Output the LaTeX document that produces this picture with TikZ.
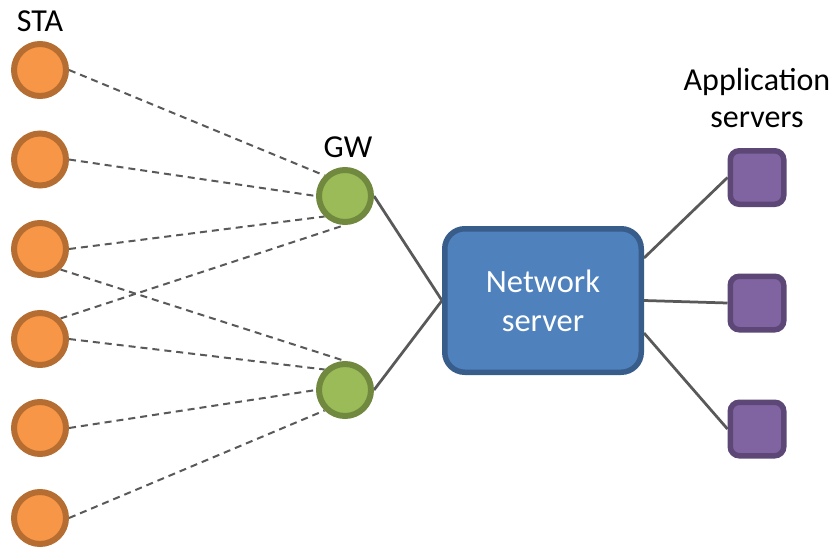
\documentclass[tikz,border=0pt]{standalone}
\usepackage{fontspec}
\setmainfont{Carlito}
\usetikzlibrary{backgrounds}
\definecolor{staFill}{HTML}{F79646}
\definecolor{staLine}{HTML}{B66D31}
\definecolor{gwFill}{HTML}{9BBB59}
\definecolor{gwLine}{HTML}{71893F}
\definecolor{nsFill}{HTML}{4F81BD}
\definecolor{nsLine}{HTML}{385D8A}
\definecolor{appFill}{HTML}{8064A2}
\definecolor{appLine}{HTML}{5C4776}
\definecolor{lineGray}{HTML}{595959}
\tikzset{
  stanode/.style={circle, fill=staFill, draw=staLine, line width=6pt, minimum size=52pt, inner sep=0pt},
  gwnode/.style={circle, fill=gwFill, draw=gwLine, line width=6pt, minimum size=52pt, inner sep=0pt},
  appnode/.style={rectangle, rounded corners=9pt, fill=appFill, draw=appLine, line width=5.5pt, minimum size=53.5pt, inner sep=0pt},
  srvnode/.style={rectangle, rounded corners=20pt, fill=nsFill, draw=nsLine, line width=5.5pt,
    minimum width=196.5pt, minimum height=143.5pt, inner sep=0pt, text=white, align=center,
    font=\fontsize{32.5pt}{39pt}\selectfont},
  lbl/.style={inner sep=0pt, anchor=base, font=\fontsize{32pt}{37pt}\selectfont},
  solidlink/.style={draw=lineGray, line width=2.75pt},
  dashlink/.style={draw=lineGray, line width=2pt, dash pattern=on 7pt off 5pt},
}
\begin{document}
\begin{tikzpicture}[x=1pt, y=-1pt]
\useasboundingbox (0,0) rectangle (837,557);
% stations
\node[stanode] (s1) at (40,70) {};
\node[stanode] (s2) at (40,159.5) {};
\node[stanode] (s3) at (40,249) {};
\node[stanode] (s4) at (40,339) {};
\node[stanode] (s5) at (40,428) {};
\node[stanode] (s6) at (40,518) {};
% gateways
\node[gwnode] (g1) at (345,196) {};
\node[gwnode] (g2) at (345,390) {};
% network server
\node[srvnode] (ns) at (543,300.5) {Network\\server};
% application servers
\node[appnode] (a1) at (757,177.5) {};
\node[appnode] (a2) at (757,303) {};
\node[appnode] (a3) at (757,429) {};
% labels
\node[lbl] (tsta) at (40,31) {STA};
\node[lbl] (tgw) at (348,157) {GW};
\node[lbl] (tapp1) at (757,90) {Application};
\node[lbl] (tapp2) at (757,127) {servers};
\begin{pgfonlayer}{background}
\draw[dashlink] (s1.east) -- (g1.north west);
\draw[dashlink] (s2.east) -- (g1.west);
\draw[dashlink] (s3.east) -- (g1.south west);
\draw[dashlink] (s4.north east) -- (g1.south);
\draw[dashlink] (s3.south east) -- (g2.north);
\draw[dashlink] (s4.east) -- (g2.north west);
\draw[dashlink] (s5.east) -- (g2.west);
\draw[dashlink] (s6.east) -- (g2.south west);
\draw[solidlink] (g1.east) -- (ns.west);
\draw[solidlink] (g2.east) -- (ns.west);
\draw[solidlink] ([yshift=42.5pt]ns.east) -- (a1.west);
\draw[solidlink] (ns.east) -- (a2.west);
\draw[solidlink] ([yshift=-32.5pt]ns.east) -- (a3.west);
\end{pgfonlayer}
\end{tikzpicture}
\end{document}
